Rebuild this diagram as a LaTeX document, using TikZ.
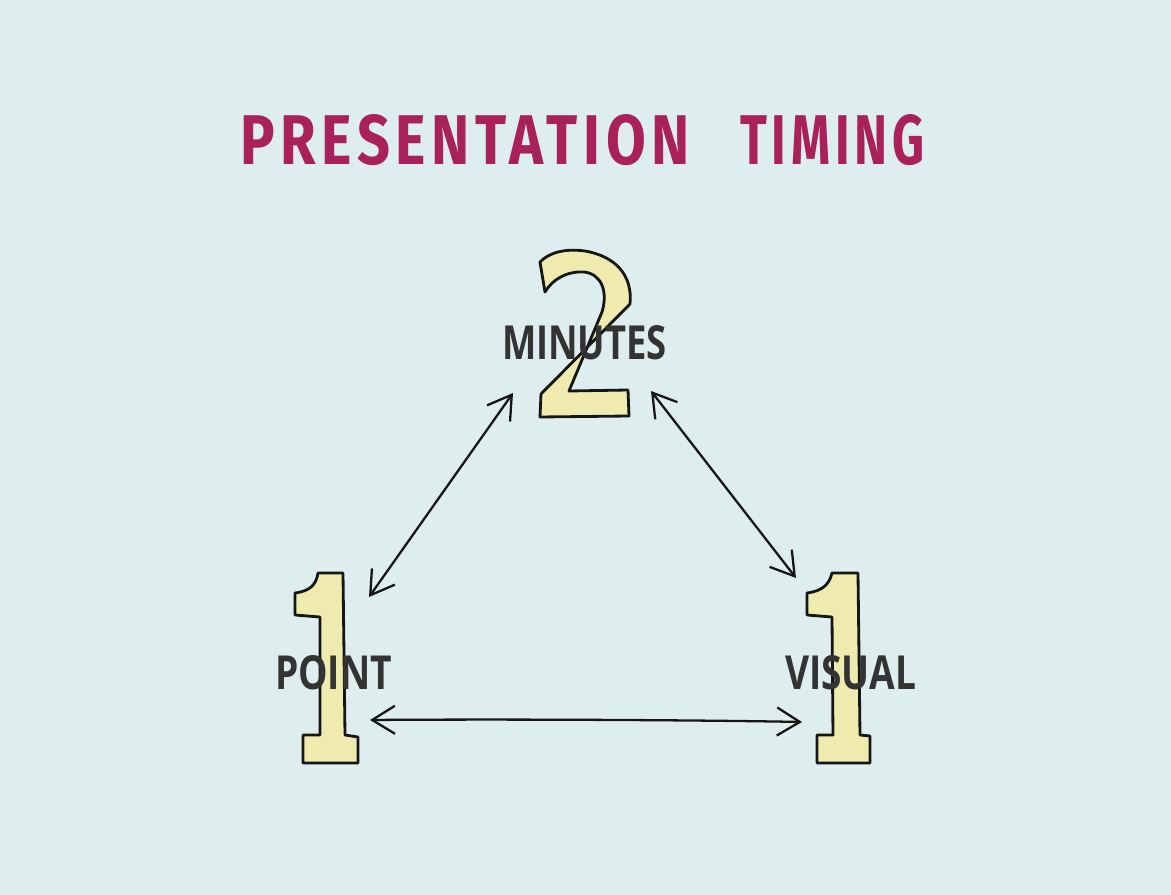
\documentclass[tikz,border=0pt]{standalone}
\usepackage{fontspec}
\usepackage{graphicx}
\setmainfont{Fira Sans}
\newfontfamily\titlefont[LetterSpace=10]{Fira Sans}
\newfontfamily\labelfont{Open Sans}
\usetikzlibrary{arrows.meta}
\definecolor{bgc}{HTML}{DEEEEF}
\definecolor{titlec}{HTML}{A8215A}
\definecolor{labelc}{HTML}{333333}
\definecolor{digitfill}{HTML}{EFEBAE}
\definecolor{inkc}{HTML}{151515}
\tikzset{
  digit/.style={draw=inkc, fill=digitfill, line width=1.6pt, line join=round},
  lbl/.style={inner sep=0pt, text=labelc, font=\labelfont\bfseries},
  ttl/.style={inner sep=0pt, text=titlec, font=\titlefont\bfseries},
  dbl/.style={draw=inkc, line width=1.3pt, line cap=round,
    {Straight Barb[length=13pt,width=16pt]}-{Straight Barb[length=13pt,width=16pt]}}
}
\begin{document}
\begin{tikzpicture}[x=0.02cm,y=-0.02cm]
\fill[bgc] (0,0) rectangle (1171,895);
\useasboundingbox (0,0) rectangle (1171,895);
% title
\node[ttl] (title1) at (465,140) {\resizebox{9.0cm}{1.0cm}{PRESENTATION}};
\node[ttl] (title2) at (832.5,140) {\resizebox{3.7cm}{1.0cm}{TIMING}};
% digit 2
\draw[digit] (540,262) .. controls (552,250) and (570,249) .. (585,251)
  .. controls (614,256) and (633,274) .. (630,304)
  -- (541,394) -- (540,417) -- (629,416) -- (628,390) -- (569,391)
  -- (602,312) .. controls (608,292) and (602,274) .. (584,272)
  .. controls (566,271) and (552,280) .. (545,292) -- cycle;
% left digit 1
\draw[digit] (318,573) -- (343,573) -- (345,735) -- (358,737) -- (358,763)
  -- (303,763) -- (303,735) -- (320,735) -- (320,617) -- (295,615) -- (295,593)
  .. controls (310,591) and (316,585) .. (318,573) -- cycle;
% right digit 1
\draw[digit] (832,573) -- (858,573) -- (860,735) -- (870,736) -- (870,763)
  -- (817,763) -- (817,735) -- (833,735) -- (832,617) -- (807,615) -- (807,593)
  .. controls (822,591) and (829,585) .. (832,573) -- cycle;
% labels
\node[lbl] (minutes) at (584.5,343) {\resizebox{3.3cm}{0.68cm}{MINUTES}};
\node[lbl] (point) at (333.5,673) {\resizebox{2.34cm}{0.68cm}{POINT}};
\node[lbl] (visual) at (850.5,673) {\resizebox{2.62cm}{0.68cm}{VISUAL}};
% arrow ends
\coordinate (mL) at (513,393);
\coordinate (pT) at (369,597);
\coordinate (mR) at (651,391);
\coordinate (vT) at (796,578);
\coordinate (pR) at (370,720);
\coordinate (vL) at (802,722);
\draw[dbl] (pT) -- (mL);
\draw[dbl] (mR) -- (vT);
\draw[dbl] (pR) .. controls (500,719) and (700,720) .. (vL);
\end{tikzpicture}
\end{document}
